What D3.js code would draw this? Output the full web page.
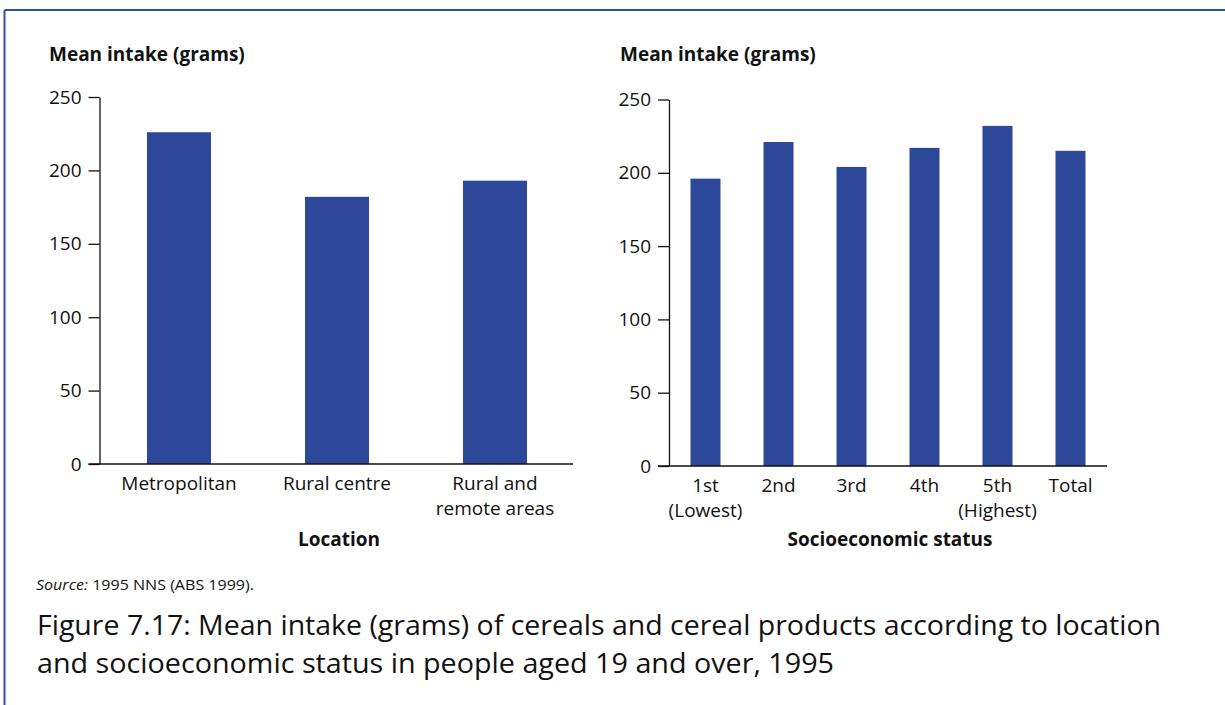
<!DOCTYPE html>
<html>
<head>
<meta charset="utf-8">
<script src="https://cdn.jsdelivr.net/npm/d3@7"></script>
<style>
  html, body { margin: 0; padding: 0; background: #fff; }
  svg { display: block; }
  text { font-family: "Open Sans", "Noto Sans", sans-serif; fill: #111; }
</style>
</head>
<body>
<svg id="chart" width="1225" height="705"></svg>
<script>
// Mean intake (grams) of cereals and cereal products, 1995
const locationCategories = ["Metropolitan", "Rural centre", "Rural and\nremote areas"];
const locationValues = [226, 182, 193];

const sesCategories = ["1st\n(Lowest)", "2nd", "3rd", "4th", "5th\n(Highest)", "Total"];
const sesValues = [196, 221, 204, 217, 232, 215];

const yTicks = [0, 50, 100, 150, 200, 250];

const barColor = "#2d4898";
const frameColor = "#3050a0";
const labelSize = 19;

const svg = d3.select("#chart");

// Panel frame: top and left rule
svg.append("line").attr("x1", 4.5).attr("x2", 1225).attr("y1", 10).attr("y2", 10)
  .attr("stroke", frameColor).attr("stroke-width", 2);
svg.append("line").attr("x1", 4.5).attr("x2", 4.5).attr("y1", 10).attr("y2", 705)
  .attr("stroke", frameColor).attr("stroke-width", 2);

function drawPanel(opts) {
  const g = svg.append("g");
  const y = d3.scaleLinear().domain([0, 250]).range([opts.y0, opts.y250]);
  const x = d3.scaleBand()
    .domain(opts.categories)
    .range(opts.xRange)
    .paddingInner(opts.padding)
    .paddingOuter(opts.padding / 2);

  // y-axis title
  g.append("text")
    .attr("x", opts.titleX).attr("y", 61)
    .attr("font-size", labelSize).attr("font-weight", "bold")
    .text("Mean intake (grams)");

  // bars
  g.selectAll("rect.bar")
    .data(opts.values)
    .join("rect")
    .attr("class", "bar")
    .attr("x", (d, i) => x(opts.categories[i]))
    .attr("width", x.bandwidth())
    .attr("y", d => y(d))
    .attr("height", d => y(0) - y(d))
    .attr("fill", barColor);

  // y axis
  const yAxis = g.append("g")
    .attr("transform", `translate(${opts.axisX},0)`)
    .call(d3.axisLeft(y).tickValues(yTicks).tickSize(11).tickSizeOuter(0).tickPadding(7));
  yAxis.select(".domain").attr("stroke", "#111").attr("stroke-width", 1.3);
  yAxis.selectAll(".tick line").attr("stroke", "#111").attr("stroke-width", 1.3);
  yAxis.selectAll(".tick text")
    .attr("font-size", labelSize)
    .attr("font-family", "'Open Sans', 'Noto Sans', sans-serif")
    .attr("fill", "#111");

  // baseline
  g.append("line")
    .attr("x1", opts.axisX - 11).attr("x2", opts.xEnd)
    .attr("y1", y(0)).attr("y2", y(0))
    .attr("stroke", "#111").attr("stroke-width", 1.3);

  // category labels
  const xAxis = g.append("g")
    .attr("transform", `translate(0,${y(0)})`)
    .call(d3.axisBottom(x).tickSize(0).tickFormat(""));
  xAxis.select(".domain").remove();
  xAxis.selectAll(".tick").each(function (d) {
    const lines = d.split("\n");
    const t = d3.select(this).append("text")
      .attr("text-anchor", "middle")
      .attr("font-size", labelSize)
      .attr("fill", "#111");
    lines.forEach((ln, k) => {
      t.append("tspan").attr("x", 0).attr("y", 26 + k * 25).text(ln);
    });
  });

  // x-axis title
  g.append("text")
    .attr("x", opts.xTitleX).attr("y", 546)
    .attr("text-anchor", "middle")
    .attr("font-size", labelSize).attr("font-weight", "bold")
    .text(opts.xTitle);
}

drawPanel({
  categories: locationCategories,
  values: locationValues,
  titleX: 49,
  axisX: 99.5,
  y0: 464, y250: 97,
  xRange: [100, 574],
  padding: 0.595,
  xEnd: 573,
  xTitle: "Location",
  xTitleX: 339
});

drawPanel({
  categories: sesCategories,
  values: sesValues,
  titleX: 620,
  axisX: 669,
  y0: 466, y250: 99.5,
  xRange: [669, 1107],
  padding: 0.589,
  xEnd: 1107,
  xTitle: "Socioeconomic status",
  xTitleX: 890
});

// Source note
const src = svg.append("text").attr("x", 36).attr("y", 590).attr("font-size", 15)
  .attr("textLength", 218).attr("lengthAdjust", "spacingAndGlyphs");
src.append("tspan").attr("font-style", "italic").text("Source:");
src.append("tspan").text(" 1995 NNS (ABS 1999).");

// Figure caption
const caption = [
  "Figure 7.17: Mean intake (grams) of cereals and cereal products according to location",
  "and socioeconomic status in people aged 19 and over, 1995"
];
const capWidths = [1124, 797];
caption.forEach((c, i) => {
  svg.append("text")
    .attr("x", 37).attr("y", 635 + i * 38)
    .attr("font-size", 27)
    .attr("textLength", capWidths[i])
    .attr("lengthAdjust", "spacingAndGlyphs")
    .text(c);
});
</script>
</body>
</html>
